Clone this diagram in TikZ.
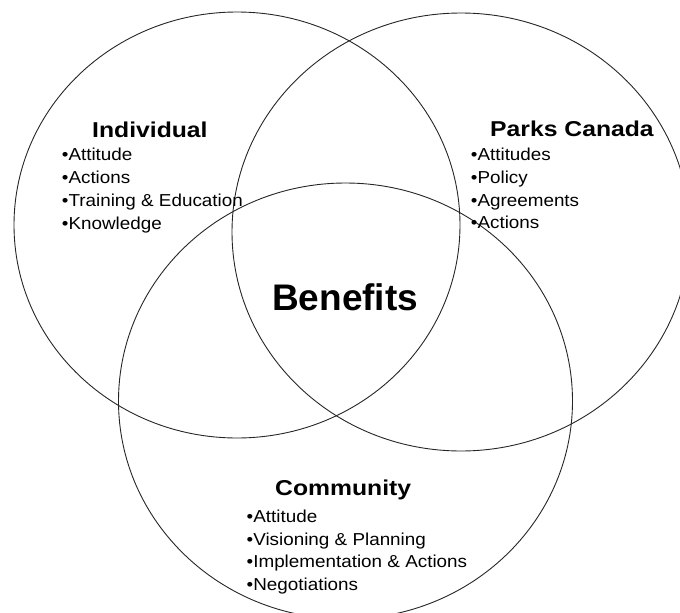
\documentclass[tikz,border=0pt]{standalone}
\usepackage{graphicx}
\usepackage{fontspec}
\setmainfont{Liberation Sans}
\newcommand\hsc[2]{\scalebox{#1}[1]{#2}}
\tikzset{
  ring/.style={draw=black!85, line width=0.9pt},
  headtxt/.style={anchor=base west, inner sep=0pt, font=\bfseries\fontsize{21.5}{24}\selectfont},
  itemtxt/.style={anchor=base west, inner sep=0pt, font=\fontsize{17.3}{20}\selectfont},
  bigtxt/.style={anchor=base west, inner sep=0pt, font=\bfseries\fontsize{37}{40}\selectfont},
}
\begin{document}
\begin{tikzpicture}[x=1pt,y=-1pt]
\useasboundingbox (0,0) rectangle (680,613);
% circles
\coordinate (cl) at (237,225);
\coordinate (cr) at (461,232);
\coordinate (cb) at (345.5,401);
\draw[ring] (cl) ellipse [x radius=223, y radius=213];
\draw[ring] (cr) ellipse [x radius=229, y radius=219];
\draw[ring] (cb) ellipse [x radius=227, y radius=218];
% Individual
\node[headtxt] (ind) at (92,137) {\hsc{1.15}{Individual}};
\node[itemtxt] (i1) at (61.7,160.7) {\hsc{1.09}{•Attitude}};
\node[itemtxt] (i2) at (61.7,183.7) {\hsc{1.09}{•Actions}};
\node[itemtxt] (i3) at (61.7,206.7) {\hsc{1.09}{•Training \& Education}};
\node[itemtxt] (i4) at (61.7,229.5) {\hsc{1.09}{•Knowledge}};
% Parks Canada
\node[headtxt] (pc) at (490,136.7) {\hsc{1.15}{Parks Canada}};
\node[itemtxt] (p1) at (470.7,160) {\hsc{1.09}{•Attitudes}};
\node[itemtxt] (p2) at (470.7,183.3) {\hsc{1.09}{•Policy}};
\node[itemtxt] (p3) at (470.7,206) {\hsc{1.09}{•Agreements}};
\node[itemtxt] (p4) at (470.7,228.7) {\hsc{1.09}{•Actions}};
% Community
\node[headtxt] (com) at (275,495) {\hsc{1.15}{Community}};
\node[itemtxt] (c1) at (246.5,522.5) {\hsc{1.09}{•Attitude}};
\node[itemtxt] (c2) at (246.5,545) {\hsc{1.09}{•Visioning \& Planning}};
\node[itemtxt] (c3) at (246.5,567.5) {\hsc{1.09}{•Implementation \& Actions}};
\node[itemtxt] (c4) at (246.5,590) {\hsc{1.09}{•Negotiations}};
% Benefits
\node[bigtxt] (ben) at (272,310) {Benefits};
\end{tikzpicture}
\end{document}
